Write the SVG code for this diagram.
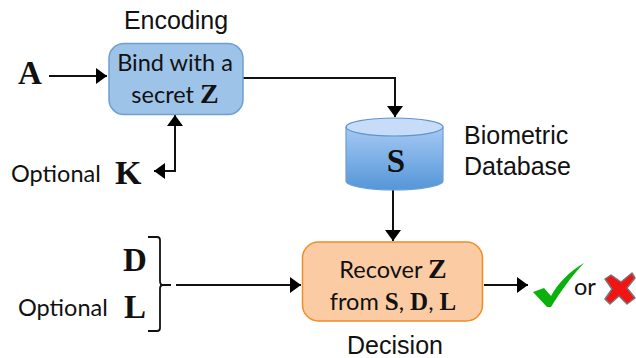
<svg xmlns="http://www.w3.org/2000/svg" width="636" height="358" viewBox="0 0 636 358">
<style>
.a{font-family:"Liberation Sans",Arial,sans-serif;font-size:25px;fill:#111}
.c{font-family:Lato,"Open Sans",sans-serif;font-size:23.500px;fill:#111}
.b{font-family:"Liberation Serif","Times New Roman",serif;font-weight:bold;fill:#111}
.l{fill:none;stroke:#111;stroke-width:2}
</style>
<defs>
<marker id="ah" markerUnits="userSpaceOnUse" markerWidth="12" markerHeight="18" refX="11" refY="8" orient="auto-start-reverse"><path d="M0 0L11 8L0 16Z" fill="#000"/></marker>
<linearGradient id="cy" x1="0" y1="0" x2="0" y2="1"><stop offset="0" stop-color="#a5c9f4"/><stop offset="1" stop-color="#5596d8"/></linearGradient>
</defs>
<rect width="636" height="358" fill="#fff"/>
<g id="connectors">
<path class="l" d="M49 76H107" marker-end="url(#ah)"/>
<path class="l" d="M243 78H395V117" marker-end="url(#ah)"/>
<path class="l" d="M175 115V171H154" marker-start="url(#ah)" marker-end="url(#ah)"/>
<path class="l" d="M393 190V241" marker-end="url(#ah)"/>
<path class="l" d="M176 285H301" marker-end="url(#ah)"/>
<path class="l" d="M484 285H528" marker-end="url(#ah)"/>
</g>
<g id="encoding">
<rect x="109" y="43.500" width="134" height="71" rx="15" fill="#9dc3e9" stroke="#6f9fd2" stroke-width="1.500"/>
<text class="c" x="175" y="71" text-anchor="middle">Bind with a</text>
<text class="c" x="175" y="103" text-anchor="middle">secret <tspan class="b" font-size="28">Z</tspan></text>
<text class="a" x="176" y="29" text-anchor="middle">Encoding</text>
</g>
<g id="input-a"><text class="b" x="18" y="84" font-size="33">A</text></g>
<g id="input-k">
<text class="c" x="11" y="182">Optional</text>
<text class="b" x="115" y="184" font-size="34">K</text>
</g>
<g id="database">
<path d="M346 127V181C346 186 369 190 394 190C419 190 443 186 443 181V127Z" fill="url(#cy)" stroke="#6c9fd4" stroke-width="1.200"/>
<ellipse cx="394.500" cy="127" rx="48.500" ry="9" fill="#c6dcf9" stroke="#5f94cd" stroke-width="1.200"/>
<text class="b" x="396" y="172" text-anchor="middle" font-size="33">S</text>
<text class="a" x="464" y="144">Biometric</text>
<text class="a" x="464" y="175">Database</text>
</g>
<g id="inputs-dl">
<text class="b" x="123" y="271" font-size="33">D</text>
<text class="b" x="124" y="318" font-size="33">L</text>
<text class="c" x="18" y="316">Optional</text>
<path d="M148 237H157Q160 237 160 240V281Q160 285 163 285H171M163 285Q160 285 160 289V328Q160 331 157 331H148" fill="none" stroke="#111" stroke-width="1.800"/>
</g>
<g id="decision">
<rect x="302.500" y="242" width="180" height="79" rx="16" fill="#fbcba3" stroke="#f28c28" stroke-width="1.500"/>
<text class="c" x="393" y="278" text-anchor="middle">Recover <tspan class="b" font-size="28">Z</tspan></text>
<text class="c" x="393" y="310" text-anchor="middle">from <tspan class="b" font-size="25">S</tspan>, <tspan class="b" font-size="25">D</tspan>, <tspan class="b" font-size="25">L</tspan></text>
<text class="a" x="395" y="354" text-anchor="middle">Decision</text>
</g>
<g id="result">
<path d="M533 292L544 288L551 296C558 283 570 271 584 263C571 277 561 291 551 307L547 307Z" fill="#0bb10b"/>
<text class="c" x="574" y="295" font-size="26">or</text>
<path d="M605 279L611 275L621 282L632 273L635 278L627 288L635 298L627 304L619 296L610 304L605 299L612 289Z" fill="#f01414" stroke="#777" stroke-width="1.500" stroke-linejoin="round"/>
</g>
</svg>
